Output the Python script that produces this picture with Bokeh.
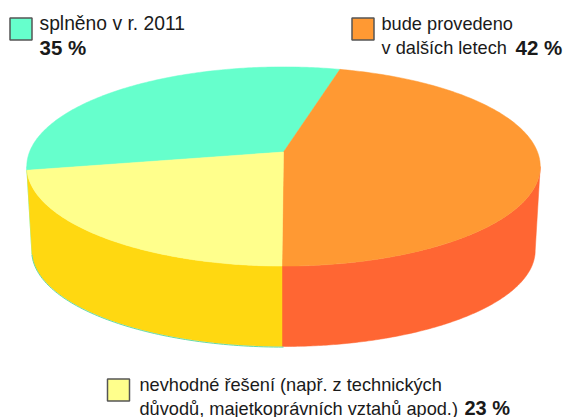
import math
from bokeh.plotting import figure
from bokeh.models import Range1d
from bokeh.core.properties import value
from bokeh.embed import file_html
from bokeh.resources import INLINE

# Shares printed in the chart's labels, and the sweeps as they are drawn in the picture
categories = ["splněno v r. 2011", "bude provedeno v dalších letech", "nevhodné řešení"]
printed_shares = [35, 42, 23]
drawn_shares = [32, 46, 22]
top_colors = ["#66FFCC", "#FF9933", "#FFFF8C"]
wall_colors = ["#66FFCC", "#FF6633", "#FFD811"]
START_DEG = 259.5

# Projection of the pie disc: X = cx + C*u/(1+k*v), Y = (A*v+B)/(1+k*v)
K = 0.1457
TOP = dict(cx=283.0, C=254.0, A=-75.4, B=151.5)
BOTTOM = dict(cx=283.0, C=249.0, A=-59.6, B=236.0)
FRONT = (98.4, 261.6)


def project(deg, d):
    r = math.radians(deg)
    u, v = math.sin(r), math.cos(r)
    w = 1 + K * v
    return d["cx"] + d["C"] * u / w, (d["A"] * v + d["B"]) / w


def sweep(a0, a1, n=160):
    return [a0 + (a1 - a0) * i / n for i in range(n + 1)]


p = figure(width=564, height=417, x_range=Range1d(0, 564), y_range=Range1d(417, 0),
           toolbar_location=None, output_backend="svg", min_border=0)
p.xaxis.visible = False
p.yaxis.visible = False
p.xgrid.visible = False
p.ygrid.visible = False
p.outline_line_color = None

bounds = []
a = START_DEG
for s in drawn_shares:
    bounds.append((a, a + s * 3.6))
    a += s * 3.6

# Walls: only the part of each slice that faces the viewer
for i in range(3):
    a0, a1 = bounds[i]
    a0, a1 = (a0 % 360), (a0 % 360) + (a1 - a0)
    lo, hi = max(a0, FRONT[0]), min(a1, FRONT[1])
    if hi <= lo:
        continue
    angs = sweep(lo, hi)
    tx, ty = zip(*[project(t, TOP) for t in angs])
    bx, by = zip(*[project(t, BOTTOM) for t in reversed(angs)])
    p.patch(list(tx) + list(bx), list(ty) + list(by), fill_color=wall_colors[i],
            line_color=wall_colors[i], line_width=0.5)

# Thin teal rim under the gold wall
rim = sweep(180, START_DEG, 80)
rx, ry = zip(*[project(t, BOTTOM) for t in rim])
p.line(rx, [y + 0.6 for y in ry], line_color="#66D9A8", line_width=1)

# Disc
centre = (TOP["cx"], TOP["B"])
for i in range(3):
    a0, a1 = bounds[i]
    pts = [project(t, TOP) for t in sweep(a0, a1)]
    xs = [centre[0]] + [q[0] for q in pts]
    ys = [centre[1]] + [q[1] for q in pts]
    p.patch(xs, ys, fill_color=top_colors[i], line_color=top_colors[i], line_width=0.5)

# Legend swatches
for c, (l, t, r, b) in zip(top_colors, [(9.5, 17.5, 31.5, 39.5), (351.5, 17.5, 373.5, 39.5), (107, 378.5, 129, 400.5)]):
    p.quad(left=[l], right=[r], top=[t], bottom=[b], fill_color=c, line_color="#555555", line_width=1.5)


def label(x, y, t, bold=False, size=18.2):
    p.text([x], [y], text=[t], text_font=value("Liberation Sans"),
           text_font_size=f"{size}px", text_color="#1a1a1a",
           text_font_style="bold" if bold else "normal",
           text_baseline="alphabetic", text_align="left")


label(39, 23, "splněno v r. 2011", size=19.3)
label(39, 47, f"{printed_shares[0]} %", True, 20.5)
label(381, 23, "bude provedeno")
label(381, 47, "v dalších letech")
label(515, 47, f"{printed_shares[1]} %", True, 20.5)
label(139, 384, "nevhodné řešení (např. z technických")
label(139, 408, "důvodů, majetkoprávních vztahů apod.)")
label(464, 407, f"{printed_shares[2]} %", True, 20)

open("out.html", "w").write(file_html(p, INLINE))
